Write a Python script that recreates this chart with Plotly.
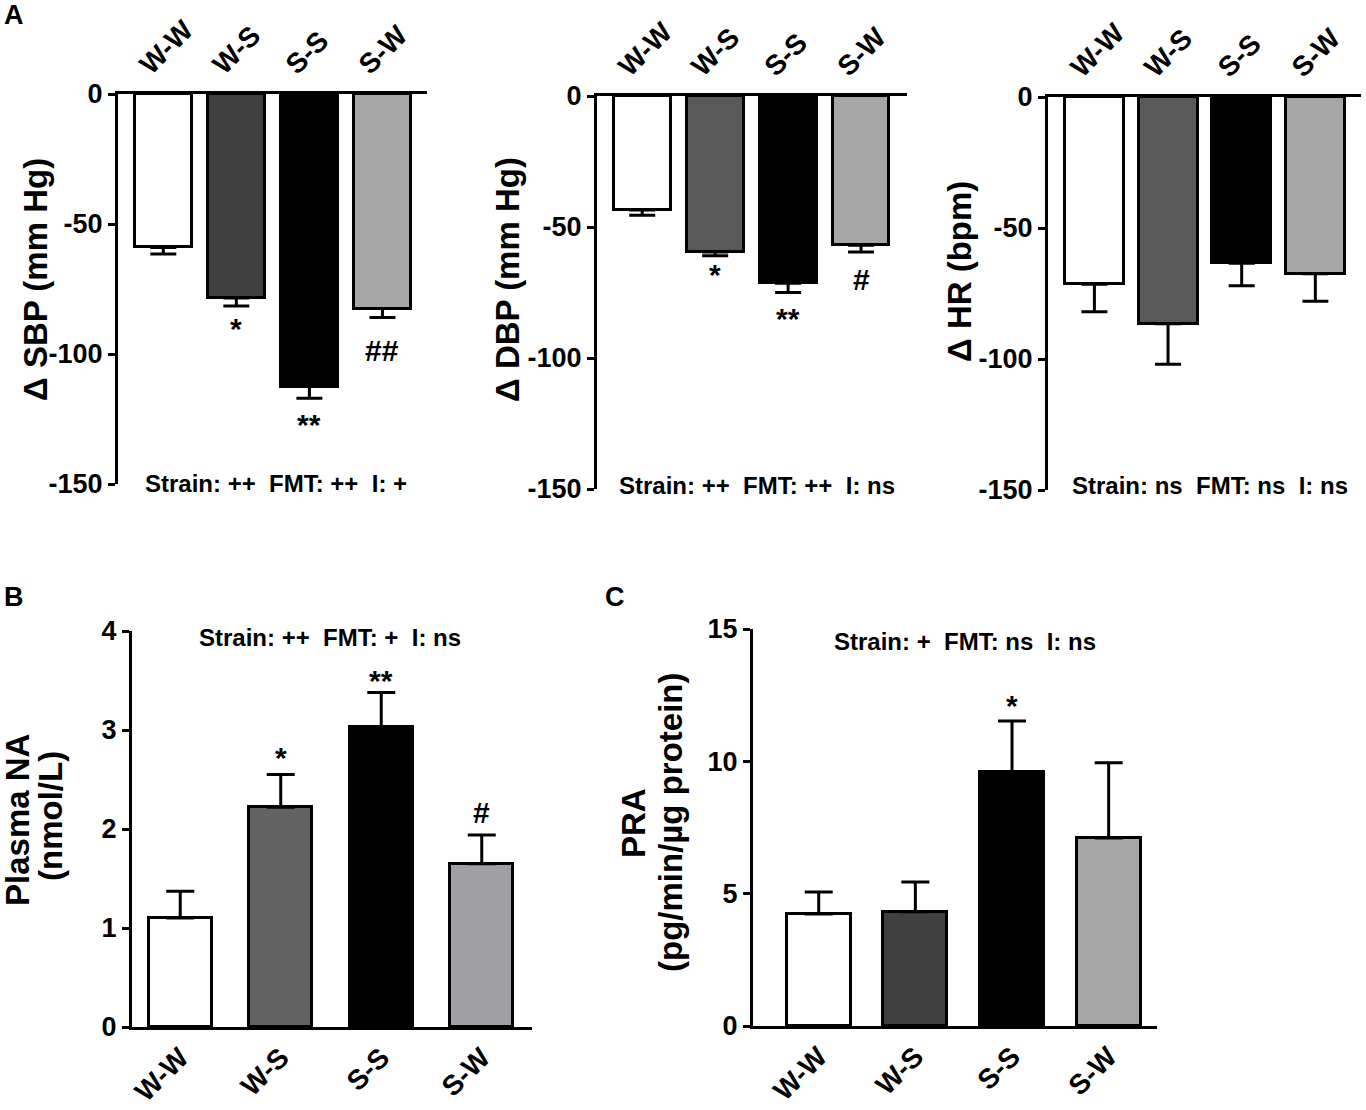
import plotly.graph_objects as go

W, H = 1366, 1110
FONT = "Liberation Sans"

groups = ["W-W", "W-S", "S-S", "S-W"]

# panel A: change from baseline (negative bars)
sbp_mean = [-59, -78.5, -112.5, -82.5]
sbp_sem = [2.5, 3, 4.5, 3.5]
dbp_mean = [-43.5, -59.5, -71.5, -57]
dbp_sem = [2, 1.5, 3.5, 2.5]
hr_mean = [-71.5, -86.5, -63.5, -67.5]
hr_sem = [10.5, 15.5, 8.5, 10.5]

# panel B / C
na_mean = [1.10, 2.22, 3.03, 1.65]
na_sem = [0.27, 0.33, 0.35, 0.29]
pra_mean = [4.23, 4.32, 9.6, 7.1]
pra_sem = [0.83, 1.12, 1.92, 2.85]

a_ticks = [-150, -100, -50, 0]
a_ticktext = ["-150", "-100", "-50", "0"]
na_ticks = [0, 1, 2, 3, 4]
pra_ticks = [0, 5, 10, 15]

sbp_marks = ["", "*", "**", "##"]
sbp_mark_y = [0, -90, -127, -98.5]
dbp_marks = ["", "*", "**", "#"]
dbp_mark_y = [0, -68, -85, -70]
na_marks = ["", "*", "**", "#"]
na_mark_y = [0, 2.72, 3.5, 2.17]
pra_marks = ["", "", "*", ""]
pra_mark_y = [0, 0, 12.1, 0]

# px boxes: (left, right, top, bottom), x range, y range, colours
panels = [
    dict(box=(118, 427, 94, 484), xr=[-0.62, 3.61], yr=[-150, 0], tv=a_ticks, tt=a_ticktext,
         mean=sbp_mean, sem=sbp_sem, neg=True, width=0.78,
         colors=["white", "#404040", "black", "#a6a6a6"],
         marks=sbp_marks, mark_y=sbp_mark_y),
    dict(box=(597, 907, 96, 489), xr=[-0.62, 3.63], yr=[-150, 0], tv=a_ticks, tt=a_ticktext,
         mean=dbp_mean, sem=dbp_sem, neg=True, width=0.78,
         colors=["white", "#595959", "black", "#a6a6a6"],
         marks=dbp_marks, mark_y=dbp_mark_y),
    dict(box=(1048, 1361, 97, 490), xr=[-0.63, 3.62], yr=[-150, 0], tv=a_ticks, tt=a_ticktext,
         mean=hr_mean, sem=hr_sem, neg=True, width=0.8,
         colors=["white", "#595959", "black", "#a6a6a6"],
         marks=["", "", "", ""], mark_y=[0, 0, 0, 0]),
    dict(box=(132, 532, 631, 1027), xr=[-0.48, 3.5], yr=[0, 4], tv=na_ticks,
         tt=[str(v) for v in na_ticks],
         mean=na_mean, sem=na_sem, neg=False, width=0.63,
         colors=["white", "#636363", "black", "#a0a0a4"],
         marks=na_marks, mark_y=na_mark_y),
    dict(box=(753, 1157, 629, 1026), xr=[-0.68, 3.5], yr=[0, 15], tv=pra_ticks,
         tt=[str(v) for v in pra_ticks],
         mean=pra_mean, sem=pra_sem, neg=False, width=0.66,
         colors=["white", "#404040", "black", "#a6a6a6"],
         marks=pra_marks, mark_y=pra_mark_y),
]

fig = go.Figure()
annotations = []


def bold(size):
    return dict(family=FONT, size=size, color="black", weight="bold")


for i, p in enumerate(panels, start=1):
    sfx = "" if i == 1 else str(i)
    l, r, t, b = p["box"]
    zeros = [0] * 4
    err = dict(type="data", symmetric=False, color="black", thickness=3,
               width=13 if p["neg"] else 14,
               array=zeros if p["neg"] else p["sem"],
               arrayminus=p["sem"] if p["neg"] else zeros)
    fig.add_trace(go.Bar(x=groups, y=p["mean"], width=p["width"],
                         marker=dict(color=p["colors"], line=dict(color="black", width=3)),
                         error_y=err, xaxis="x" + sfx, yaxis="y" + sfx,
                         showlegend=False, hoverinfo="skip"))
    fig.layout["xaxis" + sfx] = dict(
        domain=[l / W, r / W], range=p["xr"], anchor="y" + sfx, automargin=False,
        side="top" if p["neg"] else "bottom", showline=True, linewidth=3,
        linecolor="black", ticks="", tickangle=-45, showgrid=False,
        ticklabelshift=-22 if p["neg"] else 0, tickfont=bold(28))
    fig.layout["yaxis" + sfx] = dict(
        domain=[1 - b / H, 1 - t / H], range=p["yr"], anchor="x" + sfx, automargin=False,
        tickvals=p["tv"], ticktext=p["tt"], showline=True, linewidth=3, linecolor="black",
        ticks="outside", ticklen=7, tickwidth=3, tickcolor="black",
        showgrid=False, zeroline=False, tickfont=bold(27))
    for g, m, my in zip(groups, p["marks"], p["mark_y"]):
        if m:
            annotations.append(dict(x=g, y=my, xref="x" + sfx, yref="y" + sfx,
                                    text=m, showarrow=False, xanchor="center",
                                    yanchor="middle", font=bold(30)))

nb = "\u00a0"
stats = [
    ("Strain: ++" + nb * 2 + "FMT: ++" + nb * 2 + "I: +", 276, 483),
    ("Strain: ++" + nb * 2 + "FMT: ++" + nb * 2 + "I: ns", 757, 485),
    ("Strain: ns" + nb * 2 + "FMT: ns" + nb * 2 + "I: ns", 1210, 485),
    ("Strain: ++" + nb * 2 + "FMT: +" + nb * 2 + "I: ns", 330, 637),
    ("Strain: +" + nb * 2 + "FMT: ns" + nb * 2 + "I: ns", 965, 641),
]
for txt, x, y in stats:
    annotations.append(dict(x=x / W, y=1 - y / H, xref="paper", yref="paper", text=txt,
                            xanchor="center", yanchor="middle",
                            showarrow=False, font=bold(24)))

titles = [
    ("\u0394 SBP (mm Hg)", 35, 280, 33),
    ("\u0394 DBP (mm Hg)", 507, 280, 33),
    ("\u0394 HR (bpm)", 960, 272, 33),
    ("Plasma NA", 17, 820, 33),
    ("(nmol/L)", 50, 816, 33),
    ("PRA", 633, 823, 33),
    ("(pg/min/\u00b5g protein)", 670, 823, 33),
]
for txt, x, y, s in titles:
    annotations.append(dict(x=x / W, y=1 - y / H, xref="paper", yref="paper", text=txt,
                            xanchor="center", yanchor="middle",
                            textangle=-90, showarrow=False, font=bold(s)))

for txt, x, y in [("A", 14, 15), ("B", 14, 597), ("C", 615, 597)]:
    annotations.append(dict(x=x / W, y=1 - y / H, xref="paper", yref="paper", text=txt,
                            xanchor="center", yanchor="middle",
                            showarrow=False, font=bold(27)))

fig.update_layout(width=W, height=H, margin=dict(l=0, r=0, t=0, b=0, autoexpand=False),
                  paper_bgcolor="white", plot_bgcolor="white",
                  annotations=annotations, bargap=0)
fig.write_html("out.html", config={"displayModeBar": False},
               post_script="document.body.style.margin='0';")
